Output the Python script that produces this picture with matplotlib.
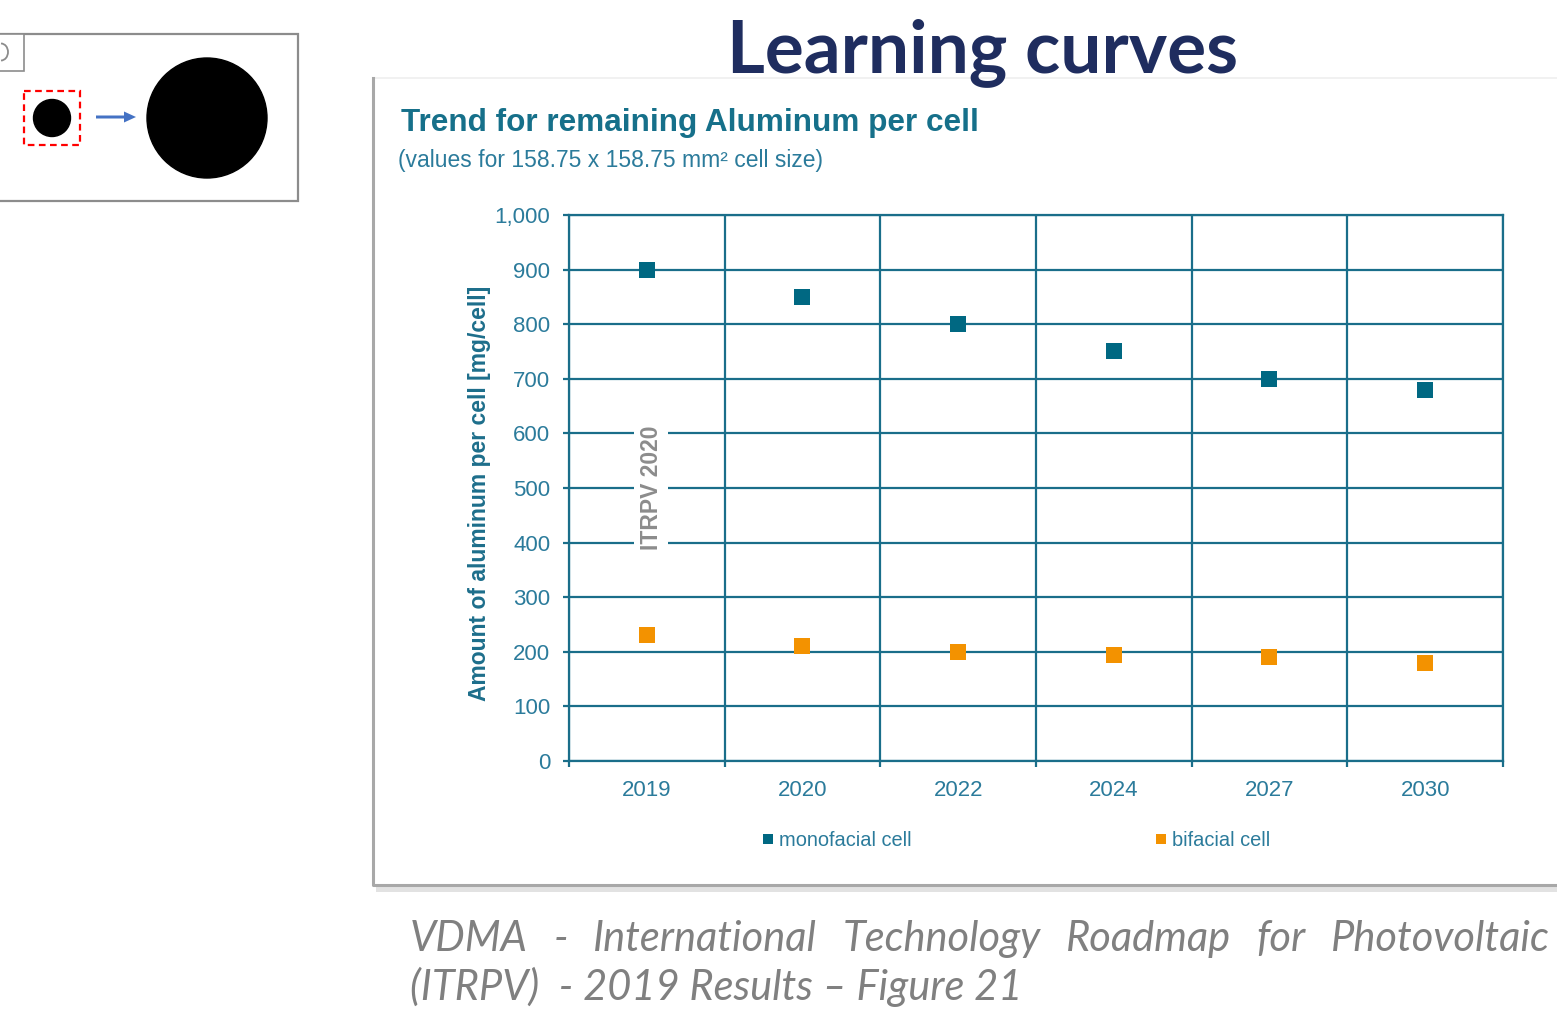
import matplotlib
matplotlib.use('Agg')
import matplotlib.pyplot as plt
from matplotlib.patches import Rectangle, Circle, FancyArrow, Arc
from matplotlib.lines import Line2D

# data
years = ['2019', '2020', '2022', '2024', '2027', '2030']
monofacial = [900, 850, 800, 750, 700, 680]
bifacial = [230, 210, 200, 195, 190, 180]
y_ticks = [0, 100, 200, 300, 400, 500, 600, 700, 800, 900, 1000]

TEAL = '#1A6E8A'
LABEL = '#2B7B9B'
MONO = '#006882'
BIF = '#F39200'

W, H = 1557, 1034
fig = plt.figure(figsize=(W / 100, H / 100), dpi=100)

# slide layer, pixel coords (y down)
bg = fig.add_axes([0, 0, 1, 1])
bg.set_xlim(0, W)
bg.set_ylim(H, 0)
bg.axis('off')

# left picture: small circle -> big circle
bg.add_patch(Rectangle((-5, 34), 303, 167, fc='white', ec='#8C8C8C', lw=1.6))
bg.add_patch(Rectangle((-5, 34), 29, 37, fc='white', ec='#8C8C8C', lw=1.2))
bg.add_patch(Arc((1, 52), 14, 17, theta1=-90, theta2=90, color='#8C8C8C', lw=1.3))
bg.add_patch(Circle((52, 118), 18.5, color='black'))
bg.add_patch(Rectangle((24, 91), 56, 54, fill=False, ec='#FF0000', lw=1.6,
                       ls=(0, (3, 2))))
bg.add_patch(FancyArrow(96, 117, 28, 0, width=3, head_width=11, head_length=12,
                        length_includes_head=False, color='#4472C4', lw=0))
bg.add_patch(Circle((207, 118), 60, color='black'))

# chart panel with shadow (only left and bottom edges really show)
bg.add_patch(Rectangle((376, 82), 1300, 810, fc='#E2E2E2', ec='none', zorder=1))
bg.add_patch(Rectangle((373, 78), 1300, 807, fc='white', ec='none', zorder=2))
bg.plot([373, 1600], [78, 78], color='#EFEFEF', lw=1.2, zorder=2.1)
bg.plot([373, 373, 1600], [78, 885, 885], color='#A8A8A8', lw=2.2, zorder=2.1)

bg.text(983, 72, 'Learning curves', ha='center', va='baseline', fontsize=52.5,
        fontweight='bold', color='#1F2D5F', family='Lato', zorder=5)

bg.text(401, 131, 'Trend for remaining Aluminum per cell', ha='left', va='baseline',
        fontsize=22.7, fontweight='bold', color='#16708A', family='Liberation Sans', zorder=5)
bg.text(398, 167, '(values for 158.75 x 158.75 mm² cell size)', ha='left', va='baseline',
        fontsize=16.5, color='#2B7B9B', family='Liberation Sans', zorder=5)

# the chart itself
ax = fig.add_axes([569 / W, (H - 761) / H, 934 / W, 546 / H])
ax.set_zorder(3)
ax.set_facecolor('white')
x = list(range(len(years)))
ax.plot(x, monofacial, 's', color=MONO, ms=11.5, mew=0, zorder=4, label='monofacial cell')
ax.plot(x, bifacial, 's', color=BIF, ms=11.5, mew=0, zorder=4, label='bifacial cell')

ax.set_xlim(-0.5, len(years) - 0.5)
ax.set_ylim(0, 1000)
ax.set_yticks(y_ticks)
ax.set_yticklabels([f'{v:,}' for v in y_ticks])
ax.set_xticks(x)
ax.set_xticklabels(years)
ax.set_xticks([i - 0.5 for i in range(len(years) + 1)], minor=True)
ax.grid(axis='y', which='major', color=TEAL, lw=1.6)
ax.grid(axis='x', which='minor', color=TEAL, lw=1.6)
ax.set_axisbelow(True)
for s in ax.spines.values():
    s.set_color(TEAL)
    s.set_linewidth(1.6)
ax.tick_params(axis='y', which='major', length=4.5, width=1.6, color=TEAL, pad=9,
               labelsize=16, labelcolor=LABEL)
ax.tick_params(axis='x', which='major', length=0, pad=14, labelsize=16, labelcolor=LABEL)
ax.tick_params(axis='x', which='minor', length=4.5, width=1.6, color=TEAL)
for t in ax.get_xticklabels() + ax.get_yticklabels():
    t.set_family('Liberation Sans')

ax.set_ylabel('Amount of aluminum per cell [mg/cell]', fontsize=16.5, fontweight='bold',
              color='#1D6E8B', family='Liberation Sans')
ax.yaxis.set_label_coords(-0.083, 0.49)

ax.text(0.088, 0.5, 'ITRPV 2020', transform=ax.transAxes, rotation=90, ha='center',
        va='center', fontsize=16.5, fontweight='bold', color='#8C8C8C',
        family='Liberation Sans', zorder=5,
        bbox=dict(fc='white', ec='none', pad=4))

handles = [Line2D([], [], ls='none', marker='s', color=MONO, ms=6.5, mew=0),
           Line2D([], [], ls='none', marker='s', color=BIF, ms=6.5, mew=0)]
leg = ax.legend(handles, ['monofacial cell', 'bifacial cell'], loc='center',
                bbox_to_anchor=(1016 / W, (H - 840) / H), bbox_transform=fig.transFigure,
                ncol=2, frameon=False, handlelength=0.6, handletextpad=0.25,
                columnspacing=12.2, prop={'family': 'Liberation Sans', 'size': 14.4})
for t in leg.get_texts():
    t.set_color(LABEL)

# caption, first line justified between 410 and 1550 px
cap_kw = dict(fontsize=30, style='italic', color='#808080', family='Lato', va='baseline')
words = ['VDMA', '-', 'International', 'Technology', 'Roadmap', 'for', 'Photovoltaic']
texts = [bg.text(0, 951, w, ha='left', **cap_kw) for w in words]
r = fig.canvas.get_renderer()
widths = [t.get_window_extent(r).width for t in texts]
gap = (1550 - 410 - sum(widths)) / (len(words) - 1)
pos = 410
for t, w in zip(texts, widths):
    t.set_x(pos)
    pos += w + gap
bg.text(410, 1000, '(ITRPV)  - 2019 Results \u2013 Figure 21', ha='left', **cap_kw)

fig.savefig('out.png', dpi=100)
